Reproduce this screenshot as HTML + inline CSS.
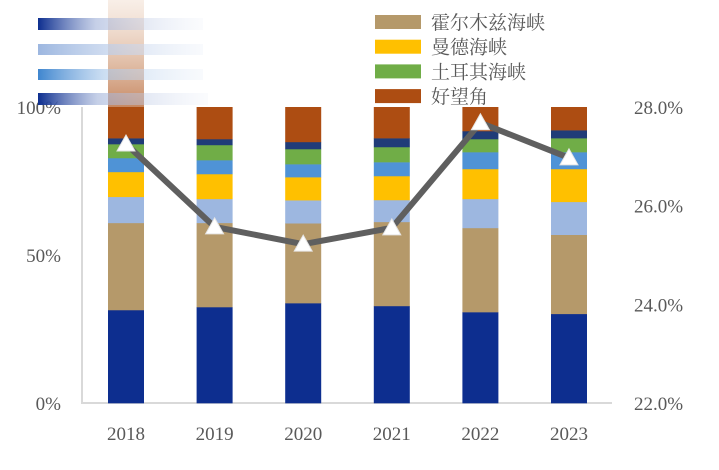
<!DOCTYPE html>
<html><head><meta charset="utf-8"><style>
body{margin:0;background:#fff;}
svg text{font-family:"Liberation Serif","Noto Serif CJK SC",serif;fill:#595959;}
</style></head><body>
<svg width="719" height="465" viewBox="0 0 719 465">
<defs>
<linearGradient id="g1" x1="0" x2="1"><stop offset="0" stop-color="#0d2e8f"/><stop offset="0.35" stop-color="#9fb0d8" stop-opacity="0.6"/><stop offset="1" stop-color="#e8edf7" stop-opacity="0.2"/></linearGradient>
<linearGradient id="g2" x1="0" x2="1"><stop offset="0" stop-color="#9db7e0"/><stop offset="1" stop-color="#e8eef8" stop-opacity="0.3"/></linearGradient>
<linearGradient id="g3" x1="0" x2="1"><stop offset="0" stop-color="#3f86cf"/><stop offset="0.4" stop-color="#a9c8ea" stop-opacity="0.6"/><stop offset="1" stop-color="#e8eef8" stop-opacity="0.3"/></linearGradient>
<linearGradient id="gb" x1="0" y1="0" x2="0" y2="1"><stop offset="0" stop-color="#e8c8b0" stop-opacity="0.3"/><stop offset="1" stop-color="#b86a3a" stop-opacity="0.8"/></linearGradient>
</defs>
<g id="axes"></g>
<g id="bars"></g>
<g id="line"></g>
<g id="legend"></g>
<g>
<rect x="108" y="0" width="36" height="107" fill="url(#gb)"/>
<rect x="38" y="18" width="165" height="12" fill="url(#g1)"/>
<rect x="38" y="44" width="165" height="11" fill="url(#g2)"/>
<rect x="38" y="69" width="165" height="11" fill="url(#g3)"/>
<rect x="38" y="93" width="170" height="12" fill="url(#g1)"/>
</g>
</svg>
<script>
const years=["2018","2019","2020","2021","2022","2023"];
const s1=[31.4,32.4,33.8,32.8,30.7,30.1];
const s2=[29.4,28.4,27.0,28.4,28.4,26.7];
const s3=[8.8,8.1,7.8,7.4,9.8,11.1];
const s4=[8.4,8.4,7.8,8.1,10.1,11.1];
const s5=[4.7,4.7,4.4,4.7,5.7,5.7];
const s6=[4.7,5.1,5.1,5.1,4.4,4.7];
const s7=[2.0,2.0,2.4,3.0,2.7,2.7];
const s8=[10.5,10.8,11.8,10.5,8.1,7.8];
const lineVals=[27.25,25.57,25.22,25.55,27.68,26.97];
const leftTicks=["0%","50%","100%"];
const rightTicks=["22.0%","24.0%","26.0%","28.0%"];
const colors=["#0d2e8f","#b5996a","#9db7e0","#ffc000","#4f93d6","#70ad47","#203c78","#ad4d12"];
const NS="http://www.w3.org/2000/svg";
const yTop=107,yBot=403,x0=82,step=88.6,bw=36;
const xc=i=>126+i*step;
const yL=p=>yBot-(p/100)*(yBot-yTop);
const yR=v=>yBot-(v-22)/6*(yBot-yTop);
function mk(t,a,parent){const e=document.createElementNS(NS,t);for(const k in a)e.setAttribute(k,a[k]);parent.appendChild(e);return e;}
const axes=document.getElementById('axes');
const ax=mk('path',{d:`M${x0} ${yTop}V${yBot}H612`,stroke:'#d9d9d9','stroke-width':2,fill:'none'},axes);


leftTicks.forEach(t=>{const v=parseFloat(t);const e=mk('text',{x:61,y:yL(v)+7,'text-anchor':'end','font-size':19},axes);e.textContent=t;

});
rightTicks.forEach(t=>{const v=parseFloat(t);const e=mk('text',{x:634,y:yR(v)+7,'font-size':19},axes);e.textContent=t;

});
years.forEach((y,i)=>{const e=mk('text',{x:xc(i),y:440,'text-anchor':'middle','font-size':19},axes);e.textContent=y;

});
const all=[s1,s2,s3,s4,s5,s6,s7,s8];
const bars=document.getElementById('bars');
years.forEach((y,i)=>{let tot=all.reduce((a,s)=>a+s[i],0);let c=0;
all.forEach((s,k)=>{const v=s[i]/tot*100;const r=mk('rect',{x:xc(i)-bw/2,y:yL(c+v),width:bw,height:yL(c)-yL(c+v)+0.3,fill:colors[k]},bars);

c+=v;});});
const lg=document.getElementById('line');
const pts=lineVals.map((v,i)=>[xc(i),yR(v)]);
const pl=mk('polyline',{points:pts.map(p=>p.join(',')).join(' '),fill:'none',stroke:'#5f5f5f','stroke-width':6,'stroke-linejoin':'round'},lg);


pts.forEach(p=>{const t=mk('path',{d:`M${p[0]} ${p[1]-9}L${p[0]+9} ${p[1]+7}L${p[0]-9} ${p[1]+7}Z`,fill:'#fff',stroke:'#e6e6e6','stroke-width':1},lg);

});
const legend=document.getElementById('legend');
const legItems=[[1,"霍尔木兹海峡"],[3,"曼德海峡"],[5,"土耳其海峡"],[7,"好望角"]];
legItems.forEach((it,j)=>{const y=22+j*24.7;
const r=mk('rect',{x:375,y:y-7,width:46,height:14,fill:colors[it[0]]},legend);


const t=mk('text',{x:431,y:y+7,'font-size':19},legend);t.textContent=it[1];

});
</script>
</body></html>
